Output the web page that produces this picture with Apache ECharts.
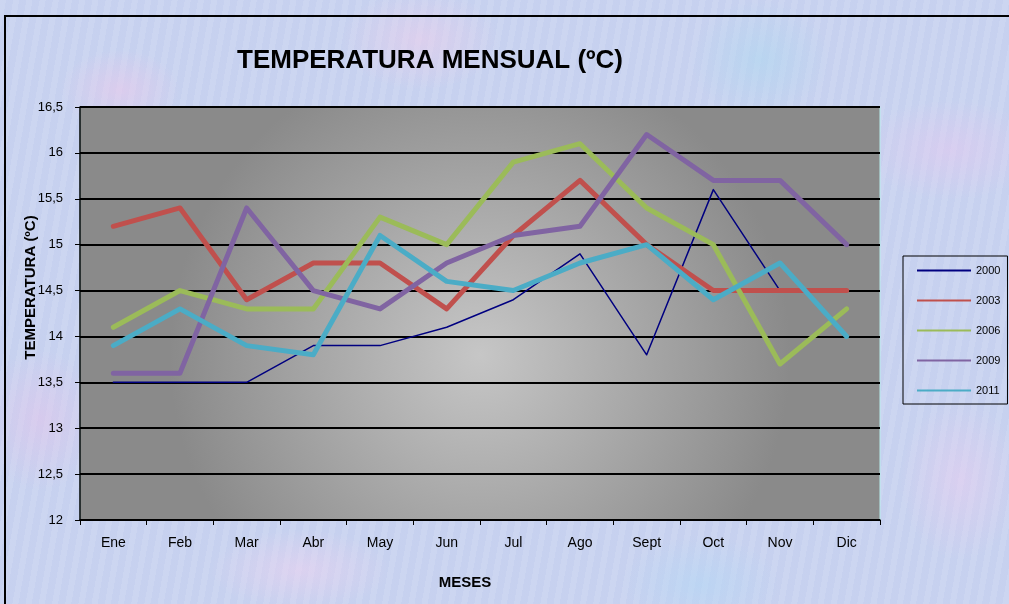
<!DOCTYPE html>
<html>
<head>
<meta charset="utf-8">
<script src="https://cdn.jsdelivr.net/npm/echarts@6/dist/echarts.min.js"></script>
<style>
  html, body { margin: 0; padding: 0; }
  body {
    width: 1009px; height: 604px; overflow: hidden; position: relative;
    background-color: #c9d3f0;
    background-image:
      radial-gradient(ellipse 60px 40px at 120px 90px, rgba(235, 200, 235, 0.55), transparent),
      radial-gradient(ellipse 80px 50px at 420px 40px, rgba(240, 205, 235, 0.5), transparent),
      radial-gradient(ellipse 70px 60px at 760px 60px, rgba(175, 215, 240, 0.6), transparent),
      radial-gradient(ellipse 90px 50px at 950px 150px, rgba(230, 200, 240, 0.5), transparent),
      radial-gradient(ellipse 60px 70px at 40px 420px, rgba(230, 195, 235, 0.5), transparent),
      radial-gradient(ellipse 90px 40px at 300px 570px, rgba(240, 210, 240, 0.5), transparent),
      radial-gradient(ellipse 80px 50px at 700px 585px, rgba(180, 215, 245, 0.6), transparent),
      radial-gradient(ellipse 60px 80px at 960px 480px, rgba(235, 205, 240, 0.5), transparent),
      repeating-linear-gradient(100deg, rgba(255,255,255,0.06) 0 6px, rgba(160,175,225,0.06) 6px 13px);
  }
  #frame {
    position: absolute; left: 4px; top: 15px; width: 1100px; height: 700px;
    border: 2px solid #000; box-sizing: border-box;
  }
  #chart { position: absolute; left: 0; top: 0; width: 1009px; height: 604px; }
</style>
</head>
<body>
<div id="frame"></div>
<div id="chart"></div>
<script>
  const months = ["Ene", "Feb", "Mar", "Abr", "May", "Jun", "Jul", "Ago", "Sept", "Oct", "Nov", "Dic"];
  const t2000 = [13.5, 13.5, 13.5, 13.9, 13.9, 14.1, 14.4, 14.9, 13.8, 15.6, 14.5, null];
  const t2003 = [15.2, 15.4, 14.4, 14.8, 14.8, 14.3, 15.1, 15.7, 15.0, 14.5, 14.5, 14.5];
  const t2006 = [14.1, 14.5, 14.3, 14.3, 15.3, 15.0, 15.9, 16.1, 15.4, 15.0, 13.7, 14.3];
  const t2009 = [13.6, 13.6, 15.4, 14.5, 14.3, 14.8, 15.1, 15.2, 16.2, 15.7, 15.7, 15.0];
  const t2011 = [13.9, 14.3, 13.9, 13.8, 15.1, 14.6, 14.5, 14.8, 15.0, 14.4, 14.8, 14.0];

  const font = "'Liberation Sans', Arial, sans-serif";

  function line(name, data, color, width) {
    return {
      name: name,
      type: "line",
      data: data,
      symbol: "none",
      connectNulls: false,
      lineStyle: { color: color, width: width, cap: "round", join: "round" },
      itemStyle: { color: color }
    };
  }

  const chart = echarts.init(document.getElementById("chart"), null, { renderer: "canvas" });
  chart.setOption({
    animation: false,
    backgroundColor: "transparent",
    textStyle: { fontFamily: font, color: "#000" },
    title: {
      text: "TEMPERATURA MENSUAL (ºC)",
      left: 425,
      textAlign: "center",
      top: 43,
      textStyle: { fontFamily: font, fontSize: 26, fontWeight: "bold", color: "#000" }
    },
    grid: {
      left: 80,
      right: 129,
      top: 107,
      bottom: 84,
      show: true,
      borderColor: "#b8ecec",
      borderWidth: 1,
      backgroundColor: {
        type: "radial",
        x: 0.5, y: 0.6, r: 0.75,
        colorStops: [
          { offset: 0, color: "#c6c6c6" },
          { offset: 1, color: "#8a8a8a" }
        ]
      }
    },
    legend: {
      orient: "vertical",
      left: 903,
      top: 256,
      padding: [9, 7, 8, 14],
      icon: "rect",
      itemWidth: 54,
      itemHeight: 2,
      itemGap: 19,
      borderColor: "#000",
      borderWidth: 1,
      textStyle: { fontFamily: font, fontSize: 11, color: "#000" },
      data: ["2000", "2003", "2006", "2009", "2011"]
    },
    xAxis: {
      type: "category",
      data: months,
      boundaryGap: true,
      name: "MESES",
      nameLocation: "middle",
      nameGap: 55,
      nameMoveOverlap: false,
      nameTextStyle: { fontFamily: font, fontSize: 15, fontWeight: "bold", color: "#000", padding: [0, 30, 0, 0] },
      axisLine: { lineStyle: { color: "#000", width: 1.5 } },
      axisTick: { show: true, inside: false, length: 5, lineStyle: { color: "#000" } },
      axisLabel: { fontFamily: font, fontSize: 14, color: "#000", margin: 16 }
    },
    yAxis: {
      type: "value",
      min: 12,
      max: 16.5,
      interval: 0.5,
      name: "TEMPERATURA (ºC)",
      nameLocation: "middle",
      nameGap: 42,
      nameMoveOverlap: false,
      nameTextStyle: { fontFamily: font, fontSize: 15, fontWeight: "bold", color: "#000", padding: [0, 0, 0, 52] },
      axisLine: { show: true, lineStyle: { color: "#000", width: 1.5 } },
      axisTick: { show: true, inside: false, length: 5, lineStyle: { color: "#000" } },
      axisLabel: {
        fontFamily: font, fontSize: 13, color: "#000", margin: 17,
        formatter: (v) => String(v).replace(".", ",")
      },
      splitLine: { show: true, lineStyle: { color: "#000", width: 2 } }
    },
    series: [
      line("2000", t2000, "#000080", 1.5),
      line("2003", t2003, "#c0504d", 5),
      line("2006", t2006, "#9bbb59", 5),
      line("2009", t2009, "#8064a2", 5),
      line("2011", t2011, "#4bacc6", 5)
    ]
  });
</script>
</body>
</html>
